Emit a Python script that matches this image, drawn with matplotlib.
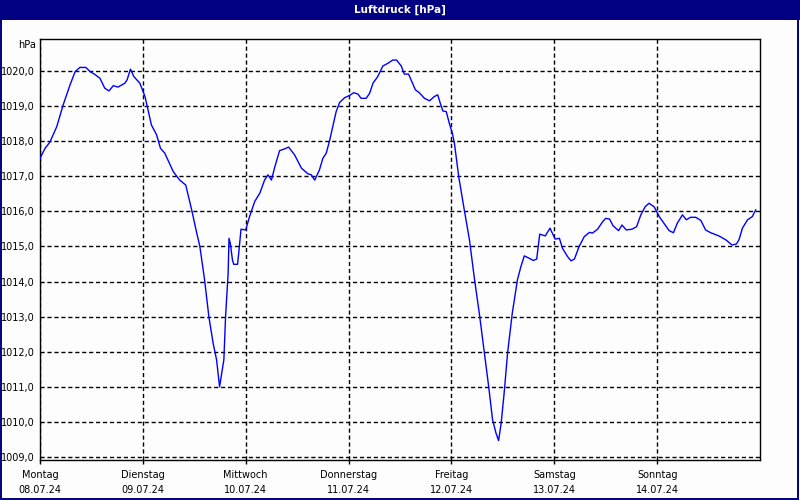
import matplotlib
matplotlib.use("Agg")
import matplotlib.pyplot as plt
from matplotlib.patches import Rectangle
from matplotlib.ticker import FuncFormatter

# Stunden seit Montag 00:00 und Luftdruck in hPa
hours = [0.0, 1.2, 2.3, 3.9, 5.4, 7.0, 8.2, 9.3, 10.7, 11.7, 12.8, 14.0, 15.1, 16.1,
         17.1, 18.2, 19.8, 20.3, 21.1, 21.9, 23.3, 24.5, 26.0, 27.2, 28.1, 29.1, 31.1,
         32.6, 34.0, 35.3, 36.5, 37.3, 38.4, 39.4, 40.4, 41.2, 41.9, 42.9, 43.3, 43.9,
         44.1, 44.4, 44.9, 45.2, 46.1, 46.4, 46.9, 48.0, 48.9, 50.1, 51.3, 52.4, 53.2,
         54.0, 54.8, 55.9, 57.1, 58.0, 59.4, 61.0, 62.5, 63.3, 64.1, 65.2, 66.0, 66.8,
         67.6, 68.3, 69.1, 69.9, 71.1, 72.2, 73.2, 74.2, 74.9, 76.1, 76.9, 77.7, 78.8,
         80.0, 81.2, 82.3, 83.2, 84.3, 85.0, 86.0, 86.6, 87.6, 88.5, 89.7, 90.9, 92.0,
         92.8, 93.4, 94.0, 94.8, 95.5, 96.2, 96.7, 97.7, 99.0, 100.2, 101.4, 102.5,
         103.7, 104.7, 105.6, 106.4, 107.0, 107.6, 108.3, 109.1, 110.2, 111.4, 112.2,
         113.0, 114.2, 115.1, 115.9, 116.6, 117.9, 119.0, 120.2, 121.2, 121.9, 123.1,
         123.9, 124.7, 125.8, 127.0, 128.2, 128.9, 130.1, 131.2, 132.0, 132.9, 133.7,
         135.0, 135.8, 136.8, 138.1, 139.2, 140.2, 141.2, 142.1, 143.3, 144.5, 145.6,
         146.8, 147.8, 148.7, 149.9, 150.8, 151.8, 153.0, 154.2, 155.3, 156.5, 158.4,
         160.0, 161.5, 162.5, 163.1, 163.9, 165.1, 166.2, 167.0]
pressure = [1017.51, 1017.80, 1017.97, 1018.41, 1019.03, 1019.60, 1019.98, 1020.10,
            1020.10, 1019.98, 1019.90, 1019.79, 1019.51, 1019.43, 1019.58, 1019.54,
            1019.65, 1019.74, 1020.05, 1019.84, 1019.65, 1019.27, 1018.46, 1018.18,
            1017.80, 1017.66, 1017.13, 1016.89, 1016.75, 1016.09, 1015.42, 1015.00,
            1014.05, 1013.00, 1012.24, 1011.77, 1011.00, 1011.77, 1013.00, 1014.24,
            1015.23, 1015.09, 1014.62, 1014.49, 1014.49, 1014.85, 1015.49, 1015.47,
            1015.85, 1016.28, 1016.52, 1016.89, 1017.04, 1016.89, 1017.27, 1017.73,
            1017.78, 1017.83, 1017.61, 1017.23, 1017.07, 1017.04, 1016.89, 1017.18,
            1017.51, 1017.66, 1018.03, 1018.41, 1018.84, 1019.10, 1019.24, 1019.30,
            1019.38, 1019.34, 1019.22, 1019.22, 1019.36, 1019.65, 1019.84, 1020.14,
            1020.22, 1020.31, 1020.31, 1020.14, 1019.91, 1019.91, 1019.74, 1019.46,
            1019.38, 1019.22, 1019.15, 1019.27, 1019.32, 1019.08, 1018.86, 1018.84,
            1018.51, 1018.23, 1017.94, 1016.99, 1016.04, 1015.19, 1014.05, 1013.10,
            1011.96, 1011.00, 1010.06, 1009.68, 1009.47, 1009.96, 1010.82, 1011.96,
            1013.10, 1014.05, 1014.42, 1014.73, 1014.66, 1014.60, 1014.64, 1015.35,
            1015.30, 1015.52, 1015.21, 1015.23, 1014.95, 1014.71, 1014.59, 1014.64,
            1015.00, 1015.28, 1015.40, 1015.38, 1015.49, 1015.69, 1015.80, 1015.78,
            1015.59, 1015.45, 1015.61, 1015.47, 1015.49, 1015.56, 1015.90, 1016.13,
            1016.23, 1016.13, 1015.85, 1015.66, 1015.45, 1015.39, 1015.66, 1015.90,
            1015.76, 1015.83, 1015.83, 1015.74, 1015.47, 1015.39, 1015.30, 1015.19,
            1015.04, 1015.07, 1015.19, 1015.52, 1015.76, 1015.85, 1016.04]

day_names = ["Montag", "Dienstag", "Mittwoch", "Donnerstag", "Freitag", "Samstag", "Sonntag"]
day_dates = ["08.07.24", "09.07.24", "10.07.24", "11.07.24", "12.07.24", "13.07.24", "14.07.24"]
y_ticks = list(range(1009, 1021))

navy = "#000080"

fig = plt.figure(figsize=(8, 5), dpi=100, facecolor="#fcfdfc")

# Titelleiste + Rahmen
fig.patches.append(Rectangle((0, 1 - 20 / 500), 1, 20 / 500, transform=fig.transFigure,
                             facecolor=navy, edgecolor="none", zorder=0))
fig.patches.append(Rectangle((0.001, 0.002), 0.997, 0.99, transform=fig.transFigure,
                             facecolor="none", edgecolor=navy, linewidth=1.4, zorder=1))
fig.text(0.5, 1 - 10 / 500, "Luftdruck [hPa]", color="white", fontsize=7.5,
         fontweight="bold", ha="center", va="center")

ax = fig.add_axes([40 / 800, 1 - 460 / 500, 720 / 800, 421 / 500])
ax.set_facecolor("#fcfdfc")
ax.plot([h / 24 for h in hours], pressure, color="#0000ff", linewidth=1.0, zorder=3)

ax.set_xlim(0, 7)
ax.set_ylim(1008.915, 1020.91)
ax.set_xticks(range(7))
ax.set_xticklabels([n + "\n" + d for n, d in zip(day_names, day_dates)],
                   fontsize=7, linespacing=1.7)
ax.set_yticks(y_ticks)
ax.yaxis.set_major_formatter(FuncFormatter(lambda v, p: f"{v:.1f}".replace(".", ",")))
ax.tick_params(axis="y", length=0, pad=4, labelsize=7)
ax.tick_params(axis="x", length=3, width=1, direction="out", pad=4)

ax.grid(True, color="black", linestyle=(0, (3, 2)), linewidth=1.0, zorder=1)
for s in ax.spines.values():
    s.set_color("black")
    s.set_linewidth(1.0)

fig.text(36 / 800, 1 - 45 / 500, "hPa", fontsize=7, ha="right", va="center")

fig.savefig("out.png", dpi=100, facecolor=fig.get_facecolor())
